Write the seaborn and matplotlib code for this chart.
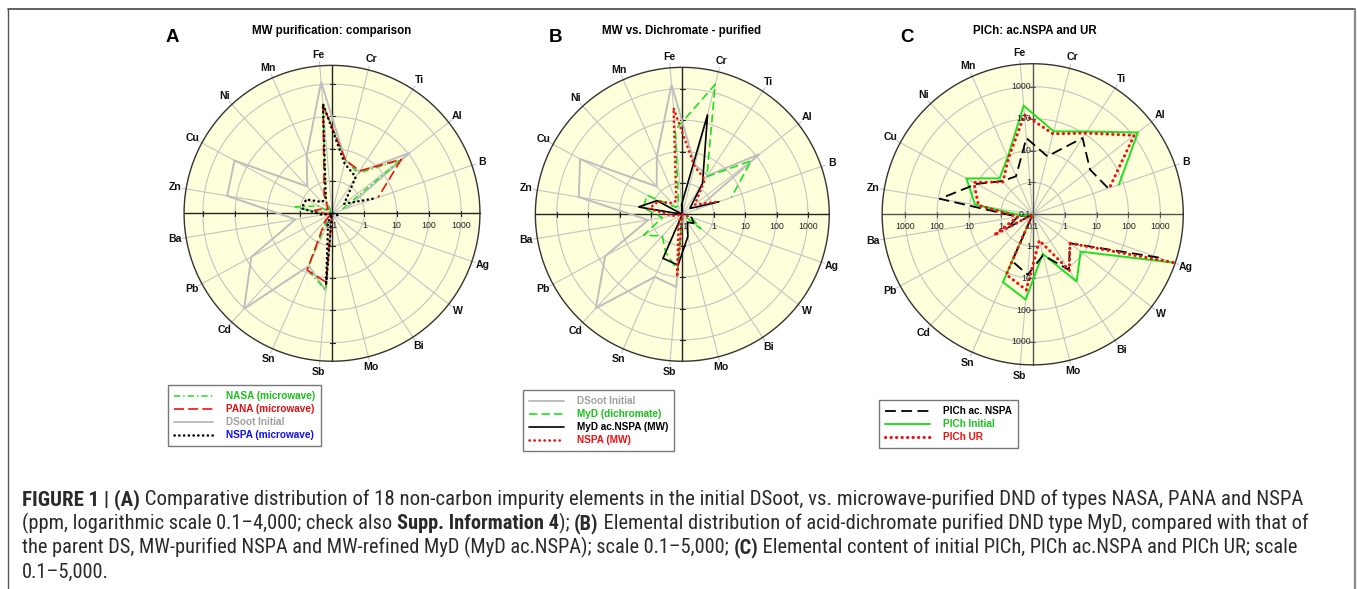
import numpy as np
import matplotlib
matplotlib.use("Agg")
import matplotlib.pyplot as plt
import seaborn as sns
from matplotlib.lines import Line2D
from matplotlib.patches import Circle
from matplotlib import font_manager

W_PX, H_PX, DPI = 1357, 589, 100

sns.set_theme(style="white")
plt.rcParams['font.family'] = ['Liberation Sans', 'DejaVu Sans']

# elements in drawing order (clockwise from Ag round to B)
elements = ["Ag", "W", "Bi", "Mo", "Sb", "Sn", "Cd", "Pb", "Ba",
            "Zn", "Cu", "Ni", "Mn", "Fe", "Cr", "Ti", "Al", "B"]
# position on a 19-slot wheel, counted anticlockwise from east; slot 0 stays empty
slot = [18, 17, 16, 15, 14, 13, 12, 11, 10, 9, 8, 7, 6, 5, 4, 3, 2, 1]

# ---- panel A, ppm ----
dsoot_a = [0.1, 0.1, 0.1, 0.1, 25, 6, 1050, 69, 1.4, 195, 270, 1.35, 9, 1200, 5, 3.4, 112, 0.3]
nasa_a  = [0.1, 0.1, 0.1, 0.1, 24, 8, 0.15, 0.1, 0.15, 1.6, 0.3, 0.1, 0.3, 250, 5, 3, 50, 0.2]
pana_a  = [0.1, 0.1, 0.1, 0.1, 14, 8.3, 0.2, 0.1, 0.15, 0.35, 0.2, 0.15, 0.4, 230, 5, 3.7, 52, 3.2]
nspa_a  = [0.15, 0.1, 0.1, 0.1, 17, 0.2, 0.1, 0.1, 0.2, 0.9, 0.8, 0.3, 0.3, 250, 3.9, 2.2, 0.3, 2.8]

# ---- panel B, ppm ----
dsoot_b = [0.1, 0.1, 0.1, 0.1, 21, 15, 1170, 62, 1.26, 220, 500, 1.6, 10.4, 1400, 4.2, 3, 133, 0.3]
myd_b   = [0.2, 0.56, 0.1, 0.1, 6.2, 2.1, 0.87, 2.5, 0.44, 1.8, 1.9, 0.2, 0.2, 50, 1850, 2.7, 60, 4.5]
mydac_b = [0.2, 0.3, 0.2, 0.53, 4.2, 3.4, 0.1, 0.1, 0.1, 2.6, 0.82, 0.1, 0.1, 0.2, 190, 1.5, 0.2, 1.7]
nspa_b  = [0.15, 0.1, 0.1, 0.1, 10, 0.2, 0.1, 0.1, 0.2, 1.2, 0.73, 0.3, 0.3, 250, 3.8, 2.1, 0.32, 1.8]

# ---- panel C, ppm ----
plch_acnspa = [1500, 3, 12, 2.1, 8, 4, 0.1, 0.8, 0.3, 90, 10, 2.6, 2, 25, 7.5, 72, 19, 32]
plch_init   = [4700, 8, 33, 1.9, 48, 21, 0.1, 0.1, 0.2, 6.8, 23, 3.4, 9, 260, 48, 126, 1500, 72]
plch_ur     = [4500, 3, 12.6, 0.7, 24, 11.6, 0.1, 2.4, 0.3, 5.3, 12.6, 2.4, 8, 135, 40, 110, 1070, 35]

decade_labels = ["1", "10", "100", "1000"]

GREY = "#BEBEBE"
GREEN = "#1FE01F"
RED = "#F01010"

panels = [
    dict(cx=332.0, cy=213.3, ppd=32.3, rmax=4.58, letter="A", lx=172,
         title="MW purification: comparison", tx=332, full=False,
         series=[
             dict(v=nasa_a, label="NASA (microwave)", color=GREEN, ls=(0, (4, 2, 1, 2)), lw=1.1, tc="#19C019"),
             dict(v=pana_a, label="PANA (microwave)", color=RED, ls=(0, (6, 2.5)), lw=1.2, tc="#E01010"),
             dict(v=dsoot_a, label="DSoot Initial", color=GREY, ls="-", lw=1.4, tc="#A0A0A0"),
             dict(v=nspa_a, label="NSPA (microwave)", color="black", ls=(0, (0.1, 1.8)), lw=1.8, tc="#1010F0", cap="round"),
         ], draw_order=[2, 0, 1, 3], leg=(168, 385), hl=3.9),
    dict(cx=682.3, cy=214.3, ppd=31.4, rmax=4.68, letter="B", lx=556,
         title="MW vs. Dichromate - purified", tx=682, full=False,
         series=[
             dict(v=dsoot_b, label="DSoot Initial", color=GREY, ls="-", lw=1.4, tc="#A0A0A0"),
             dict(v=myd_b, label="MyD (dichromate)", color=GREEN, ls=(0, (5, 2.5)), lw=1.2, tc="#19C019"),
             dict(v=mydac_b, label="MyD ac.NSPA (MW)", color="black", ls="-", lw=1.2, tc="black"),
             dict(v=nspa_b, label="NSPA (MW)", color=RED, ls=(0, (0.1, 1.8)), lw=1.9, tc="#F01010", cap="round"),
         ], draw_order=[0, 1, 2, 3], leg=(523, 390), hl=3.5),
    dict(cx=1032.7, cy=214.3, ppd=31.9, rmax=4.72, letter="C", lx=907,
         title="PlCh: ac.NSPA and UR", tx=1035, full=True,
         series=[
             dict(v=plch_acnspa, label="PlCh ac. NSPA", color="black", ls=(0, (6, 3)), lw=1.3, tc="black"),
             dict(v=plch_init, label="PlCh Initial", color=GREEN, ls="-", lw=1.4, tc="#19C019"),
             dict(v=plch_ur, label="PlCh UR", color=RED, ls=(0, (0.1, 1.7)), lw=2.2, tc="#F01010", cap="round"),
         ], draw_order=[1, 0, 2], leg=(879, 400), hl=4.5),
]

fig = plt.figure(figsize=(W_PX / DPI, H_PX / DPI), dpi=DPI)
fig.patch.set_facecolor("white")
HALF = 205  # half side of each panel box, px


def angles():
    return np.deg2rad(np.asarray(slot, float) * 360.0 / 19.0)


def to_xy(values):
    v = np.clip(np.asarray(values, float), 0.1, None)
    r = np.log10(v / 0.1)
    th = angles()
    return r * np.cos(th), r * np.sin(th)


for p in panels:
    ppd, rmax = p["ppd"], p["rmax"]
    ax = fig.add_axes([(p["cx"] - HALF) / W_PX, 1 - (p["cy"] + HALF) / H_PX,
                       2 * HALF / W_PX, 2 * HALF / H_PX])
    lim = HALF / ppd
    ax.set_xlim(-lim, lim)
    ax.set_ylim(-lim, lim)
    ax.set_aspect("equal")
    ax.axis("off")
    ax.set_facecolor("none")
    px = 1.0 / ppd

    ax.add_patch(Circle((0, 0), rmax, facecolor="#FFFFDB", edgecolor="none", zorder=0))
    tt = np.linspace(0, 2 * np.pi, 361)
    for d in range(1, 5):
        ax.plot(d * np.cos(tt), d * np.sin(tt), color="#C4C4C4", lw=0.8, zorder=1)
    ax.plot(rmax * np.cos(tt), rmax * np.sin(tt), color="#333333", lw=1.0, zorder=3)
    for th in angles():
        re = rmax + 4 * px
        ax.plot([0, re * np.cos(th)], [0, re * np.sin(th)], color="#C4C4C4", lw=0.8, zorder=1)
    # cross axes with decade ticks
    axc = "#555555" if p["full"] else "#222222"
    ax.plot([-rmax, rmax], [0, 0], color=axc, lw=1.0, zorder=2)
    ax.plot([0, 0], [-rmax, rmax], color=axc, lw=1.0, zorder=2)
    for d in range(1, 5):
        for s in (-1, 1):
            ax.plot([s * d, s * d], [-2.5 * px, 2.5 * px], color=axc, lw=0.8, zorder=2)
            ax.plot([-2.5 * px, 2.5 * px], [s * d, s * d], color=axc, lw=0.8, zorder=2)

    # data polylines
    for i in p["draw_order"]:
        s = p["series"][i]
        x, y = to_xy(s["v"])
        sns.lineplot(x=x, y=y, sort=False, estimator=None, color=s["color"],
                     linewidth=s["lw"], ax=ax, legend=False, zorder=5)
        ln = ax.lines[-1]
        ln.set_linestyle(s["ls"])
        if s.get("cap"):
            ln.set_dash_capstyle(s["cap"])
        ln.set_solid_joinstyle("miter")

    # radial labels
    fs_num = 6.3
    for d, lab in zip(range(1, 5), decade_labels):
        ax.text(d, -12.5 * px, lab, ha="center", va="center", fontsize=fs_num, color="#222", zorder=6)
    ax.text(0, -12.5 * px, "0.1", ha="center", va="center", fontsize=fs_num, color="#222", zorder=6)
    if p["full"]:
        for d, lab in zip(range(1, 5), decade_labels):
            ax.text(-d, -12.5 * px, lab, ha="center", va="center", fontsize=fs_num, color="#222", zorder=6)
            ax.text(-1.5 * px, d, lab, ha="right", va="center", fontsize=fs_num, color="#222", zorder=6)
            ax.text(-1.5 * px, -d, lab, ha="right", va="center", fontsize=fs_num, color="#222", zorder=6)
        ax.text(-1.5 * px, 0, "0.1", ha="right", va="center", fontsize=fs_num, color="#222", zorder=6)

    # element names
    for el, th in zip(elements, angles()):
        rl = rmax * 1.075
        ax.text(rl * np.cos(th), rl * np.sin(th), el, ha="center", va="center",
                fontsize=7.6, fontweight="bold", color="#111", zorder=6)

    # panel letter and title
    fig.text(p["lx"] / W_PX, 1 - 37 / H_PX, p["letter"], fontsize=13.5, fontweight="bold",
             ha="center", va="center", color="black")
    fig.text(p["tx"] / W_PX, 1 - 31 / H_PX, p["title"], fontsize=8.3, fontweight="bold",
             ha="center", va="center", color="black")

    # legend
    handles = []
    for s in p["series"]:
        h = Line2D([], [], color=s["color"], lw=s["lw"], linestyle=s["ls"])
        if s.get("cap"):
            h.set_dash_capstyle(s["cap"])
        handles.append(h)
    lx, ly = p["leg"]
    leg = fig.legend(handles, [s["label"] for s in p["series"]], loc="upper left",
                     bbox_to_anchor=(lx / W_PX, 1 - ly / H_PX), frameon=True, fancybox=False,
                     prop=dict(size=7.2, weight="bold"), handlelength=p["hl"],
                     handletextpad=1.3, labelspacing=0.3, borderpad=0.6, borderaxespad=0)
    leg.get_frame().set_edgecolor("#555555")
    leg.get_frame().set_linewidth(1.0)
    for t, s in zip(leg.get_texts(), p["series"]):
        t.set_color(s["tc"])

# figure frame
fig.add_artist(Line2D([8 / W_PX, 8 / W_PX], [0, 1 - 9 / H_PX], transform=fig.transFigure,
                      color="#555555", lw=1.0))
fig.add_artist(Line2D([8 / W_PX, 1355 / W_PX], [1 - 9 / H_PX, 1 - 9 / H_PX], transform=fig.transFigure,
                      color="#555555", lw=1.3))
fig.add_artist(Line2D([1355 / W_PX, 1355 / W_PX], [0, 1 - 9 / H_PX], transform=fig.transFigure,
                      color="#888888", lw=1.6))


# caption typeface: a narrow sans if one is installed
def caption_fonts():
    prefs = ["Liberation Sans Narrow", "Roboto Condensed", "Open Sans Condensed", "DejaVu Sans"]
    for name in prefs:
        reg = bold = None
        for f in font_manager.fontManager.ttflist:
            if f.name != name or f.style != "normal":
                continue
            if name == "DejaVu Sans" and f.stretch != "condensed":
                continue
            wt = f.weight if isinstance(f.weight, int) else (700 if "bold" in str(f.weight) else 400)
            if wt == 400 and reg is None:
                reg = f.fname
            elif wt == 700 and bold is None:
                bold = f.fname
        if reg and bold:
            return (font_manager.FontProperties(fname=reg),
                    font_manager.FontProperties(fname=bold))
    return (font_manager.FontProperties(family="Liberation Sans"),
            font_manager.FontProperties(family="Liberation Sans", weight="bold"))


cap_reg, cap_bold = caption_fonts()
caption = [
    [("FIGURE 1 | (A)", True), (" Comparative distribution of 18 non-carbon impurity elements in the initial DSoot, vs. microwave-purified DND of types NASA, PANA and NSPA", False)],
    [("(ppm, logarithmic scale 0.1\u20134,000; check also ", False), ("Supp. Information 4", True), ("); ", False), ("(B)", True), (" Elemental distribution of acid-dichromate purified DND type MyD, compared with that of", False)],
    [("the parent DS, MW-purified NSPA and MW-refined MyD (MyD ac.NSPA); scale 0.1\u20135,000; ", False), ("(C)", True), (" Elemental content of initial PlCh, PlCh ac.NSPA and PlCh UR; scale", False)],
    [("0.1\u20135,000.", False)],
]
line_right = [1302, 1303, 1298, None]
renderer = fig.canvas.get_renderer()


def rich_line(x, y, parts, size, draw=True):
    arts = []
    for txt, bold in parts:
        fp = (cap_bold if bold else cap_reg).copy()
        fp.set_size(size)
        t = fig.text(x / W_PX, 1 - y / H_PX, txt, fontproperties=fp, color="#2A2A2A",
                     ha="left", va="baseline")
        x += t.get_window_extent(renderer).width
        arts.append(t)
    if not draw:
        for a in arts:
            a.remove()
    return x


base = 12.0
sizes = []
for parts, right in zip(caption, line_right):
    if right is None:
        sizes.append(float(np.mean(sizes)))
    else:
        w = rich_line(22, 505, parts, base, draw=False) - 22
        sizes.append(base * (right - 22) / w)
for k, (parts, sz) in enumerate(zip(caption, sizes)):
    rich_line(22, 505 + 24.2 * k, parts, sz)

fig.savefig("out.png", dpi=DPI)
